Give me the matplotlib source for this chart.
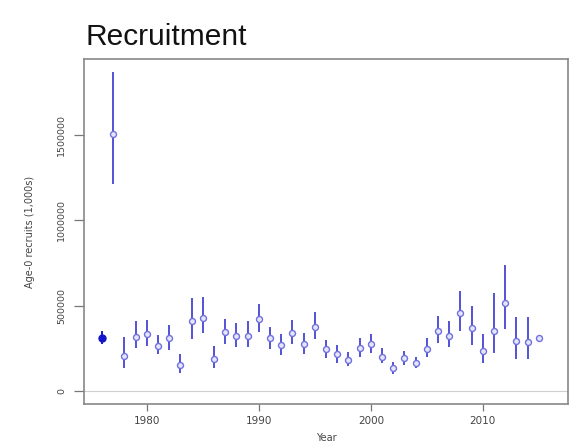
import numpy as np
import matplotlib
matplotlib.use("Agg")
import matplotlib.pyplot as plt

years = list(range(1976, 2016))
recruits = [313000, 1507000, 208000, 320000, 336000, 266000, 309000, 153000, 408000, 430000,
            188000, 344000, 326000, 326000, 422000, 309000, 268000, 342000, 276000, 377000,
            247000, 217000, 180000, 254000, 276000, 203000, 136000, 192000, 168000, 248000,
            355000, 325000, 457000, 370000, 235000, 355000, 519000, 291000, 288000, 313000]
lower = [276000, 1215000, 136000, 250000, 266000, 215000, 244000, 104000, 305000, 340000,
         133000, 276000, 260000, 258000, 346000, 248000, 212000, 276000, 217000, 307000,
         194000, 168000, 145000, 200000, 223000, 163000, 102000, 155000, 136000, 198000,
         282000, 258000, 355000, 268000, 163000, 221000, 367000, 188000, 188000, np.nan]
upper = [355000, 1868000, 317000, 410000, 414000, 329000, 389000, 219000, 547000, 549000,
         262000, 422000, 402000, 408000, 512000, 375000, 334000, 418000, 338000, 461000,
         297000, 268000, 229000, 313000, 336000, 250000, 171000, 235000, 203000, 309000,
         440000, 410000, 588000, 496000, 336000, 572000, 736000, 437000, 437000, np.nan]
xticks = [1980, 1990, 2000, 2010]
yticks = [0, 500000, 1000000, 1500000]

W, H = 579, 447
fig = plt.figure(figsize=(W / 100, H / 100), dpi=100)
ax = fig.add_axes([84 / W, 1 - 404 / H, (568 - 84) / W, (404 - 59) / H])

yr = np.array(years)
rc = np.array(recruits, dtype=float)
lo = np.array(lower, dtype=float)
hi = np.array(upper, dtype=float)

ax.axhline(0, color='#cfcfcf', lw=0.8, zorder=1)

bar_col = '#5252d6'
ok = ~np.isnan(lo)
ax.vlines(yr[ok][1:], lo[ok][1:], hi[ok][1:], color=bar_col, lw=1.4, zorder=2)
ax.vlines(yr[:1], lo[:1], hi[:1], color='#1a1acc', lw=1.4, zorder=2)
ax.plot(yr[1:], rc[1:], 'o', ms=4.3, mfc='#e6e6fb', mec='#7070e0', mew=1.0, zorder=3)
ax.plot(yr[:1], rc[:1], 'o', ms=5, mfc='#1515c8', mec='#1515c8', zorder=3)

ax.set_xlim(1974.4, 2017.6)
ax.set_ylim(-74760, 1944000)
ax.set_xticks(xticks)
ax.set_xticklabels([str(t) for t in xticks], fontsize=7.5, color='#444444')
ax.set_yticks(yticks)
ax.set_yticklabels([str(t) for t in yticks], fontsize=6.8, color='#444444',
                   rotation=90, va='center')
ax.tick_params(axis='x', length=5, width=0.9, color='#777777', pad=4)
ax.tick_params(axis='y', length=7, width=0.9, color='#777777', pad=6)
for s in ax.spines.values():
    s.set_color('#888888')
    s.set_linewidth(1.2)

ax.set_xlabel('Year', fontsize=7, color='#444444', labelpad=5)
ax.set_ylabel('Age-0 recruits (1,000s)', fontsize=7, color='#444444', labelpad=16)

fig.text(86 / W, 1 - 45 / H, 'Recruitment', fontsize=21.5,
         family=['Liberation Sans'], va='baseline', color='#111111')

fig.savefig('out.png', dpi=100)
